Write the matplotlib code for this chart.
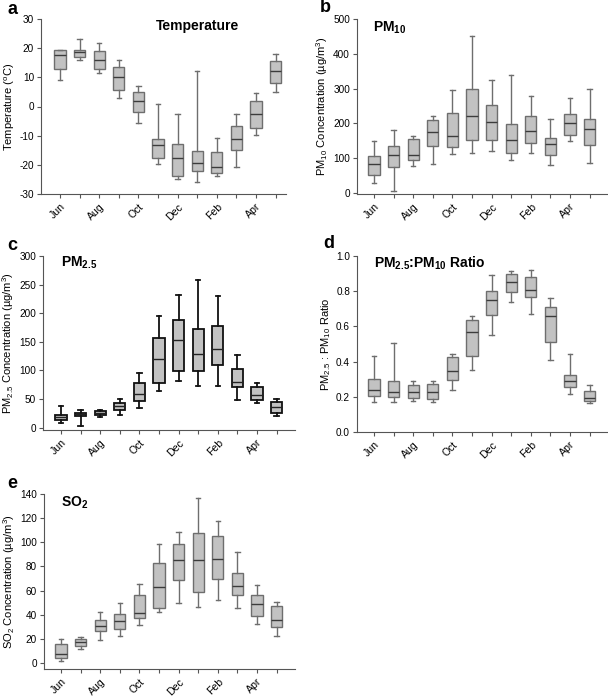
import matplotlib
matplotlib.use('Agg')
import matplotlib.pyplot as plt

plt.rcParams['font.family'] = ['Liberation Sans', 'DejaVu Sans']
plt.rcParams['mathtext.fontset'] = 'custom'
plt.rcParams['mathtext.rm'] = 'Liberation Sans'
plt.rcParams['mathtext.bf'] = 'Liberation Sans:bold'

months = ['Jun', 'Jul', 'Aug', 'Sep', 'Oct', 'Nov', 'Dec', 'Jan', 'Feb', 'Mar', 'Apr', 'May']

# each panel: whisker low, q1, median, q3, whisker high
temp_lo = [9.2, 15.9, 11.4, 2.9, -5.7, -19.8, -24.8, -25.9, -23.7, -20.7, -9.8, 4.9]
temp_q1 = [13.0, 17.1, 12.7, 5.7, -2.0, -17.5, -23.8, -22.0, -22.8, -15.0, -7.5, 8.0]
temp_med = [17.6, 18.6, 15.9, 10.0, 1.8, -13.2, -17.5, -19.4, -20.6, -11.0, -2.4, 12.1]
temp_q3 = [19.3, 19.5, 18.9, 13.4, 4.9, -11.2, -12.9, -15.4, -15.6, -6.7, 1.8, 15.5]
temp_hi = [19.5, 23.0, 21.7, 16.1, 7.2, 0.7, -2.4, 12.3, -10.8, -2.6, 4.8, 17.9]

pm10_lo = [30, 6, 78, 83, 112, 116, 122, 96, 116, 79, 148, 86]
pm10_q1 = [53, 74, 96, 136, 131, 151, 151, 115, 144, 110, 168, 139]
pm10_med = [82, 108, 108, 175, 163, 220, 205, 152, 178, 140, 202, 183]
pm10_q3 = [107, 136, 154, 211, 230, 300, 254, 197, 222, 157, 227, 214]
pm10_hi = [150, 182, 164, 220, 295, 451, 326, 338, 278, 212, 274, 300]

pm25_lo = [8.7, 2.9, 19.1, 22.6, 35.3, 63.7, 82.2, 73.5, 72.4, 48.6, 42.8, 20.3]
pm25_q1 = [13.9, 20.3, 22.0, 30.7, 46.3, 78.2, 98.4, 99.0, 110.0, 71.8, 48.6, 24.9]
pm25_med = [18.0, 23.2, 26.0, 37.6, 59.6, 119.3, 153.4, 128.0, 137.8, 79.3, 57.9, 35.9]
pm25_q3 = [22.6, 26.0, 28.4, 42.8, 78.2, 157.5, 188.8, 172.5, 178.3, 102.5, 70.6, 45.2]
pm25_hi = [37.6, 31.8, 30.7, 51.0, 95.5, 195.7, 232.0, 257.7, 229.9, 126.2, 78.7, 51.0]

ratio_lo = [0.173, 0.173, 0.176, 0.173, 0.237, 0.351, 0.552, 0.738, 0.672, 0.410, 0.216, 0.165]
ratio_q1 = [0.203, 0.197, 0.194, 0.190, 0.298, 0.431, 0.664, 0.793, 0.767, 0.510, 0.256, 0.176]
ratio_med = [0.237, 0.230, 0.226, 0.230, 0.347, 0.571, 0.750, 0.852, 0.806, 0.657, 0.290, 0.192]
ratio_q3 = [0.302, 0.292, 0.268, 0.273, 0.425, 0.638, 0.799, 0.898, 0.880, 0.710, 0.324, 0.235]
ratio_hi = [0.429, 0.505, 0.292, 0.287, 0.442, 0.660, 0.894, 0.915, 0.920, 0.761, 0.442, 0.269]

so2_lo = [1.9, 11.9, 19.1, 22.6, 31.8, 42.5, 49.7, 46.4, 52.2, 45.6, 32.6, 22.6]
so2_q1 = [4.4, 14.4, 26.2, 28.2, 37.3, 45.8, 68.5, 58.8, 69.6, 56.3, 39.2, 29.8]
so2_med = [7.7, 17.1, 30.9, 34.8, 41.4, 63.2, 85.6, 85.6, 86.2, 63.8, 49.2, 35.6]
so2_q3 = [15.7, 19.6, 35.6, 40.6, 56.3, 82.6, 98.3, 108.0, 104.9, 74.6, 56.3, 46.9]
so2_hi = [19.9, 21.3, 42.3, 49.4, 65.2, 98.6, 108.8, 137.0, 117.6, 92.2, 64.6, 50.5]

W, H = 608, 698
fig = plt.figure(figsize=(W / 100, H / 100), dpi=100)


def make_stats(lo, q1, med, q3, hi):
    return [dict(whislo=a, q1=b, med=c, q3=d, whishi=e, fliers=[])
            for a, b, c, d, e in zip(lo, q1, med, q3, hi)]


def panel(px, title, title_pos, ylabel, stats, ylim, yticks, yfmt, edge='#6e6e6e'):
    # px = left, top, right, bottom in pixels
    l, t, r, b = px
    ax = fig.add_axes([l / W, 1 - b / H, (r - l) / W, (b - t) / H])
    pos = list(range(1, 13))
    dark = edge == '#111111'
    lw = 1.3 if dark else 1.0
    ax.bxp(stats, positions=pos, widths=0.58, capwidths=0.22, patch_artist=True,
           showfliers=False, manage_ticks=False,
           boxprops=dict(facecolor='#c2c2c2', edgecolor=edge, linewidth=lw),
           whiskerprops=dict(color=edge, linewidth=lw),
           capprops=dict(color=edge, linewidth=lw),
           medianprops=dict(color='#222222' if dark else '#3c3c3c', linewidth=1.0))
    ax.set_ylim(*ylim)
    ax.set_yticks(yticks)
    ax.set_yticklabels([yfmt.format(v) for v in yticks])
    ax.set_xticks(pos)
    ax.set_xticklabels([m if i % 2 == 0 else '' for i, m in enumerate(months)],
                       rotation=45, ha='right', rotation_mode='anchor')
    ax.spines['top'].set_visible(False)
    ax.spines['right'].set_visible(False)
    ax.spines['left'].set_color('#555555')
    ax.spines['bottom'].set_color('#555555')
    ax.tick_params(axis='both', labelsize=7.2, length=3, color='#555555', width=0.8, pad=2)
    ax.tick_params(axis='x', labelsize=7.6, pad=2.5)
    ax.set_ylabel(ylabel, fontsize=8, labelpad=2)
    ax.text(title_pos[0], title_pos[1], title, transform=ax.transAxes,
            fontsize=10, fontweight='bold', ha='left', va='center')
    return ax


step = 19.6

ax = panel((41, 19, 286, 194), 'Temperature', (0.47, 0.96),
           r'Temperature ($\mathregular{^o}$C)',
           make_stats(temp_lo, temp_q1, temp_med, temp_q3, temp_hi),
           (-30, 30), range(-30, 31, 10), '{:d}')
ax.set_xlim(1 - (60 - 41) / step, 1 + (286 - 60) / step)

ax = panel((357, 19, 608, 194), r'PM$\mathregular{_{10}}$', (0.064, 0.95),
           r'PM$\mathregular{_{10}}$ Concentration (µg/m$\mathregular{^3}$)',
           make_stats(pm10_lo, pm10_q1, pm10_med, pm10_q3, pm10_hi),
           (-3, 500), range(0, 501, 100), '{:d}')
ax.set_xlim(1 - (374 - 357) / step, 1 + (608 - 374) / step)

ax = panel((43, 256, 295, 430), r'PM$\mathregular{_{2.5}}$', (0.071, 0.96),
           r'PM$\mathregular{_{2.5}}$ Concentration (µg/m$\mathregular{^3}$)',
           make_stats(pm25_lo, pm25_q1, pm25_med, pm25_q3, pm25_hi),
           (-4, 300), range(0, 301, 50), '{:d}', edge='#111111')
ax.set_xlim(1 - (61 - 43) / step, 1 + (295 - 61) / step)

ax = panel((357, 256, 608, 432), r'PM$\mathregular{_{2.5}}$:PM$\mathregular{_{10}}$ Ratio', (0.068, 0.96),
           r'PM$\mathregular{_{2.5}}$ : PM$\mathregular{_{10}}$ Ratio',
           make_stats(ratio_lo, ratio_q1, ratio_med, ratio_q3, ratio_hi),
           (0, 1.0), [0.0, 0.2, 0.4, 0.6, 0.8, 1.0], '{:.1f}')
ax.set_xlim(1 - (374 - 357) / step, 1 + (608 - 374) / step)

ax = panel((44, 494, 295, 669), r'SO$\mathregular{_2}$', (0.067, 0.95),
           r'SO$\mathregular{_2}$ Concentration (µg/m$\mathregular{^3}$)',
           make_stats(so2_lo, so2_q1, so2_med, so2_q3, so2_hi),
           (-5, 140), range(0, 141, 20), '{:d}')
ax.set_xlim(1 - (61 - 44) / step, 1 + (295 - 61) / step)

for letter, x, y in [('a', 8, 10), ('b', 320, 8), ('c', 7, 245), ('d', 323, 244), ('e', 7, 484)]:
    fig.text(x / W, 1 - y / H, letter, fontsize=13, fontweight='bold', ha='left', va='center')

fig.savefig('out.png', dpi=100)
